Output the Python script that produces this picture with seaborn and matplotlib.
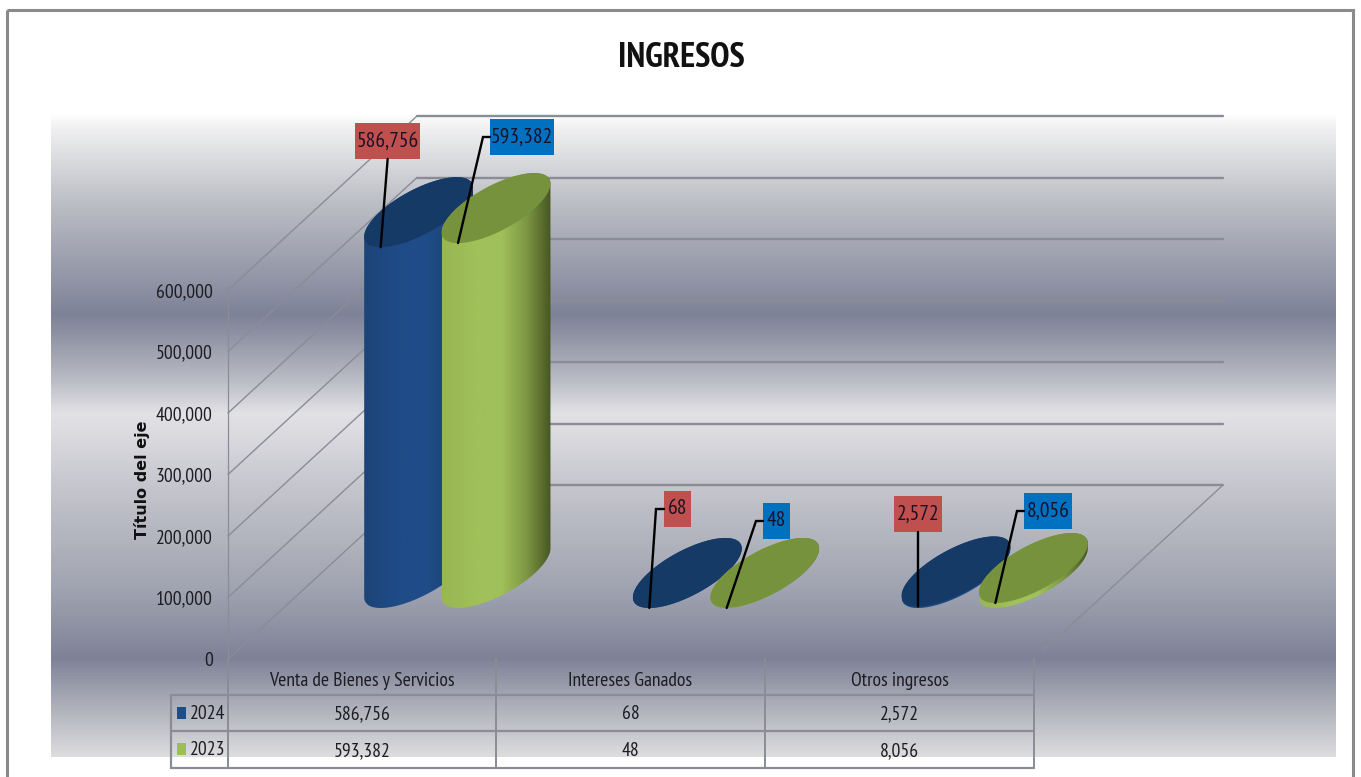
import numpy as np
import pandas as pd
import matplotlib
matplotlib.use("Agg")
import matplotlib.pyplot as plt
import seaborn as sns
from matplotlib import font_manager as fm
from matplotlib.colors import LinearSegmentedColormap
from matplotlib.patches import Polygon, Rectangle
from matplotlib.path import Path

# ---------- data ----------
categories = ["Venta de Bienes y Servicios", "Intereses Ganados", "Otros ingresos"]
years = ["2024", "2023"]
values_2024 = [586756, 68, 2572]
values_2023 = [593382, 48, 8056]
y_ticks = [0, 100000, 200000, 300000, 400000, 500000, 600000]
title = "INGRESOS"
y_title = "Título del eje"

# ---------- style ----------
W, H = 1361, 777
sns.set_theme(style="white")
names = {f.name for f in fm.fontManager.ttflist}
NARROW = next((n for n in ["PT Sans Narrow", "Fira Sans Extra Condensed", "Roboto Condensed", "Liberation Sans"]
               if n in names), "DejaVu Sans")
plt.rcParams["font.family"] = [NARROW, "DejaVu Sans"]
GRID = "#8a8c96"
TXT = "#1c1c22"
FS = 14.1
BODY = {"2024": ["#1c4478", "#1f4b86", "#1f4d8a", "#1d4678", "#14335a"],
        "2023": ["#98b651", "#a0c05a", "#a0c05a", "#7d9642", "#465622"]}
TOP = {"2024": "#163a66", "2023": "#76923c"}
KEY = {"2024": "#1f4e87", "2023": "#9fbd57"}
BOX = {"2024": "#c0504d", "2023": "#0070c0"}

# leader label layout, in picture pixels: elbow (or None), box l, t, r, b
LABELS = {("2024", 0): (None, 355, 123, 420, 159),
          ("2023", 0): ((483, 137), 490, 119, 554, 155),
          ("2024", 1): ((656, 509), 664, 491, 691, 527),
          ("2023", 1): ((756, 521), 763, 503, 790, 539),
          ("2024", 2): (None, 894, 496, 942, 532),
          ("2023", 2): ((1017, 511), 1024, 493, 1072, 529)}


def axes_px(l, t, r, b, z):
    ax = fig.add_axes([l / W, 1 - b / H, (r - l) / W, (b - t) / H], zorder=z)
    ax.patch.set_alpha(0)
    return ax


fig = plt.figure(figsize=(W / 100, H / 100), dpi=100, facecolor="white")

# ---------- background (picture pixel coordinates) ----------
bg = axes_px(0, 0, W, H, 0)
bg.set_xlim(0, W)
bg.set_ylim(H, 0)
bg.axis("off")
stops = [(112, "#ffffff"), (125, "#f1f1f2"), (200, "#bdbfc6"), (270, "#969aa9"), (314, "#7e8297"),
         (328, "#8a8d9f"), (375, "#b5b7c1"), (414, "#e2e2e6"), (500, "#c0c1c9"), (590, "#a0a3b0"),
         (660, "#7e8297"), (672, "#8b8ea0"), (720, "#b9bbc3"), (757, "#dcdcde")]
cmap = LinearSegmentedColormap.from_list("bg", [((y - 112) / (757 - 112), c) for y, c in stops])
bg.imshow(np.linspace(0, 1, 645)[:, None], cmap=cmap, extent=(51, 1336, 757, 112), aspect="auto", zorder=0)
bg.set_xlim(0, W)
bg.set_ylim(H, 0)
bg.add_patch(Rectangle((7, 10), 1346, 800, fill=False, ec="#8a8a8a", lw=2.2, zorder=1))

# ---------- front plane: value axis, walls and gridlines ----------
front = axes_px(228, 290, 1034, 659, 1)
front.set_xlim(-0.5, 2.5)
front.set_ylim(0, 600000)
front.set_xticks([])
front.set_yticks(y_ticks)
front.set_yticklabels([f"{t:,}" for t in y_ticks], fontsize=FS, color=TXT)
front.tick_params(axis="y", length=0, pad=11)
for s in ["top", "right", "bottom"]:
    front.spines[s].set_visible(False)
front.spines["left"].set_color(GRID)
front.spines["left"].set_linewidth(0.9)
front.set_ylabel(y_title, fontsize=11.5, fontweight="bold", family="DejaVu Sans", color="#111111", va="center")
front.yaxis.set_label_coords((142 - 228) / 806, (659 - 480) / 369)

DEPTH = np.array([189, 174])
for t in y_ticks:
    p0 = front.transData.transform((-0.5, t))
    p1 = p0 + DEPTH
    p2 = front.transData.transform((2.5, t)) + DEPTH
    for a, b, lw in [(p0, p1, 1.0), (p1, p2, 1.7)]:
        fig.add_artist(plt.Line2D([a[0] / W, b[0] / W], [a[1] / H, b[1] / H], color=GRID, lw=lw,
                                  transform=fig.transFigure, zorder=0.5))
f0 = front.transData.transform((2.5, 0))
b0 = f0 + DEPTH
fig.add_artist(plt.Line2D([(f0[0] + 10) / W, b0[0] / W], [(f0[1] + 9) / H, b0[1] / H], color=GRID, lw=1.0,
                          transform=fig.transFigure, zorder=0.5))

# ---------- bars, on the plane half way through the depth ----------
depth_ax = axes_px(323, 204, 1129, 573, 2)
df = pd.DataFrame({"cat": categories * 2,
                   "val": values_2024 + values_2023,
                   "year": [years[0]] * 3 + [years[1]] * 3})
sns.barplot(data=df, x="cat", y="val", hue="year", hue_order=years, order=categories, palette=KEY,
            width=0.576, gap=-0.406, legend=False, ax=depth_ax, errorbar=None)
depth_ax.set_xlim(-0.5, 2.5)
depth_ax.set_ylim(0, 600000)
depth_ax.axis("off")

PX = 3 / (1129 - 323)
PY = 600000 / 369
A, DX, DY = 39 * PX, 38 * PX, 35 * PY
T_L = np.arctan2(-DX, -A)
T_R = T_L + np.pi


def ring(cx, cy, t):
    return np.c_[cx + A * np.cos(t) + DX * np.sin(t), cy + DY * np.sin(t)]


bars = list(depth_ax.patches)
overlay = axes_px(0, 0, W, H, 3)
overlay.set_xlim(0, W)
overlay.set_ylim(H, 0)
overlay.axis("off")
anchors = {}
for i, bar in enumerate(bars):
    year = years[i // 3]
    cat = i % 3
    bar.set_visible(False)
    cx = bar.get_x() + bar.get_width() / 2
    top = bar.get_height()
    x0, x1 = cx - bar.get_width() / 2, cx + bar.get_width() / 2
    low = ring(cx, 0, np.linspace(T_L, T_R, 80))
    up = ring(cx, top, np.linspace(T_R, T_L + 2 * np.pi, 80))
    outline = np.r_[low, up, low[:1]]
    grad = LinearSegmentedColormap.from_list("b", list(zip([0, 0.3, 0.55, 0.78, 1], BODY[year])))
    im = depth_ax.imshow(np.linspace(0, 1, 256)[None, :], cmap=grad, aspect="auto",
                         extent=(x0, x1, -DY, top + DY), zorder=3 + i // 3, interpolation="bilinear")
    im.set_clip_box(fig.bbox)
    im.set_clip_path(Path(outline), transform=depth_ax.transData)
    depth_ax.add_patch(Polygon(ring(cx, top, np.linspace(0, 2 * np.pi, 160)), closed=True, fc=TOP[year],
                               ec="none", zorder=3.5 + i // 3, clip_on=False))
    ax_pt = depth_ax.transData.transform((cx - DX, top - DY))
    anchors[(year, cat)] = (ax_pt[0], H - ax_pt[1], top)
depth_ax.set_xlim(-0.5, 2.5)
depth_ax.set_ylim(0, 600000)

# ---------- data labels ----------
for (year, cat), (ex, ey, val) in anchors.items():
    elbow, l, t, r, b = LABELS[(year, cat)]
    overlay.add_patch(Rectangle((l, t), r - l, b - t, fc=BOX[year], ec="none", zorder=5))
    if elbow is None:
        xs, ys = [ex, (l + r) / 2 if cat == 2 else ex + 7], [ey, b]
    else:
        xs, ys = [ex, elbow[0], l], [ey, elbow[1], elbow[1]]
    overlay.plot(xs, ys, color="black", lw=1.7, zorder=6, solid_joinstyle="miter")
    overlay.text((l + r) / 2, (t + b) / 2, f"{int(round(val)):,}", ha="center", va="center",
                 fontsize=15.5, color="#1a1226", zorder=7)

# ---------- data table ----------
cols = [228, 496, 765, 1034]
for x in cols:
    overlay.plot([x, x], [659, 768], color=GRID, lw=1.4, zorder=2)
overlay.plot([171, 171], [695, 768], color=GRID, lw=1.6, zorder=2)
for y in [695, 731, 768]:
    overlay.plot([171, 1034], [y, y], color=GRID, lw=1.6, zorder=2)
for j, c in enumerate(categories):
    cxp = (cols[j] + cols[j + 1]) / 2
    overlay.text(cxp, 681, c, ha="center", va="center", fontsize=FS, color=TXT)
    overlay.text(cxp, 714, f"{values_2024[j]:,}", ha="center", va="center", fontsize=FS, color=TXT)
    overlay.text(cxp, 751, f"{values_2023[j]:,}", ha="center", va="center", fontsize=FS, color=TXT)
for y, k in zip([713, 749], years):
    overlay.add_patch(Rectangle((177, y - 6), 9, 12, fc=KEY[k], ec="none", zorder=3))
    overlay.text(190, y + 1, k, ha="left", va="center", fontsize=FS, color=TXT)

overlay.text(681, 58, title, ha="center", va="center", fontsize=25, fontweight="bold", color="#111111")

fig.savefig("out.png", dpi=100, facecolor="white")
